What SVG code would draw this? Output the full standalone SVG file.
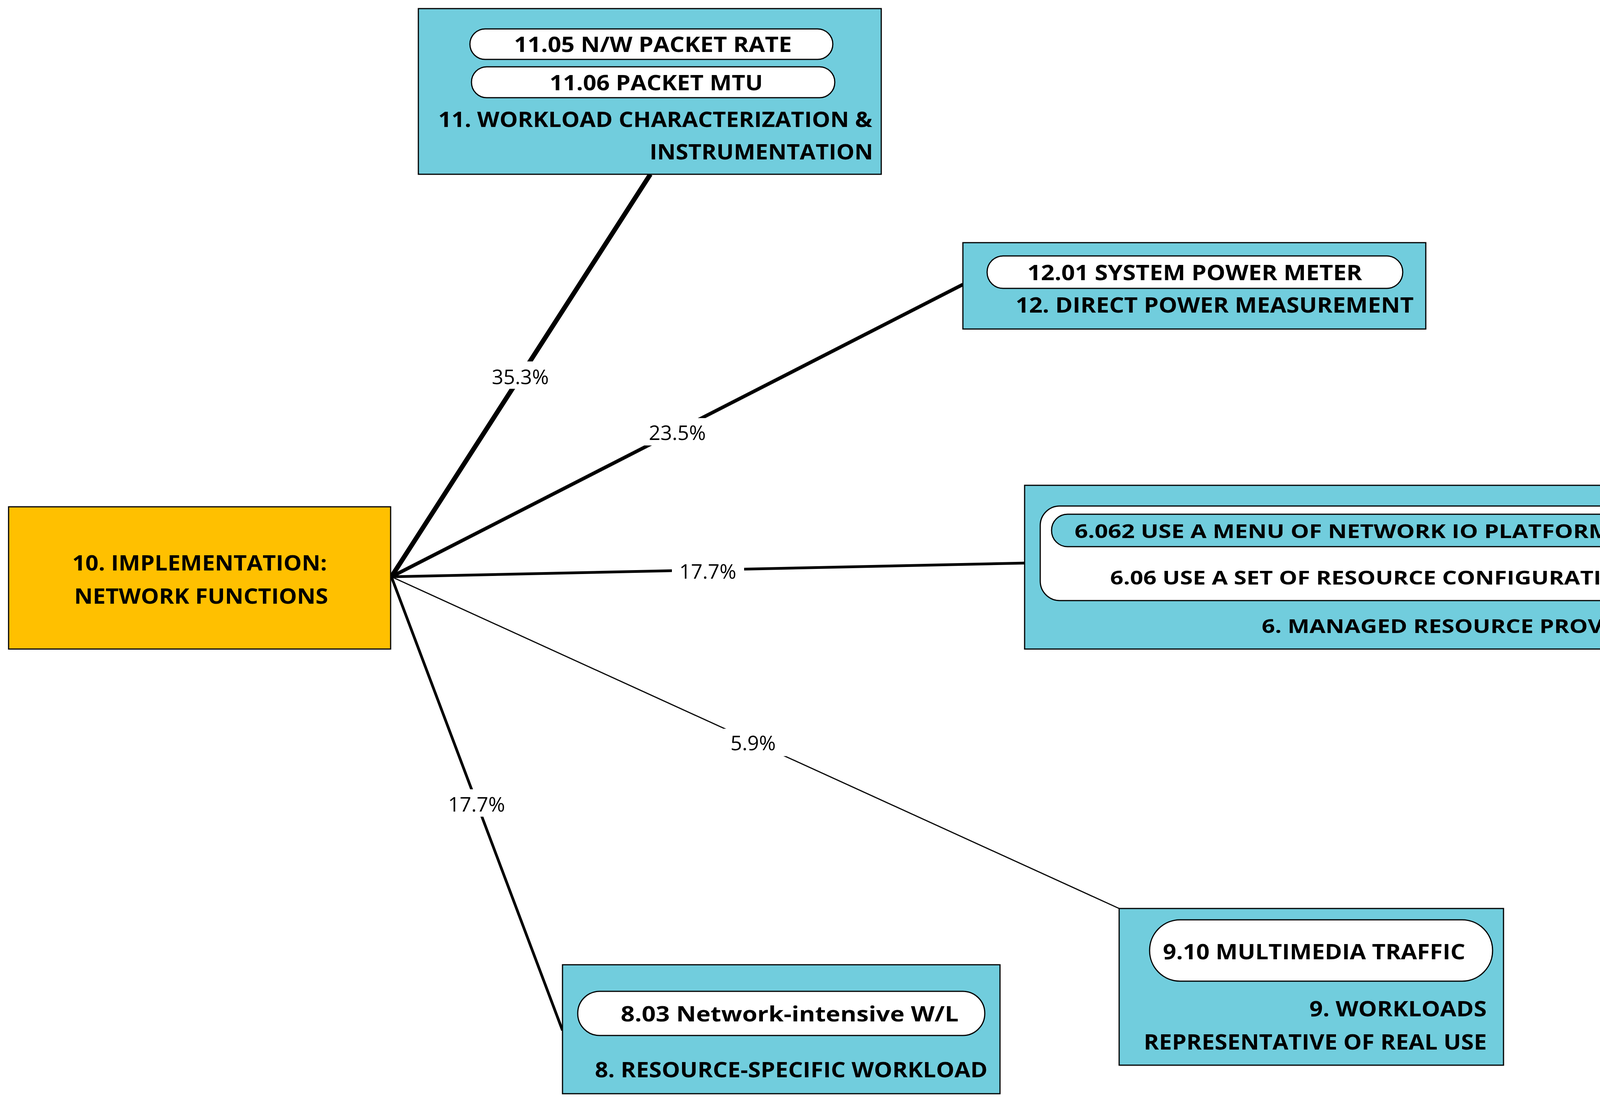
<svg xmlns="http://www.w3.org/2000/svg" width="4310" height="2810" viewBox="0 0 4310 2810" overflow="hidden">
<style>
.box{fill:#71cddd;stroke:#000;stroke-width:3}
.hub{fill:#ffc000;stroke:#000;stroke-width:3}
.pill{fill:#fff;stroke:#000;stroke-width:3}
.pillc{fill:#71cddd;stroke:#000;stroke-width:3}
.t{font-family:"Open Sans","Liberation Sans",sans-serif;font-weight:bold;font-size:54px;fill:#000}
.s{font-size:48px}
.p{font-family:"Open Sans","Liberation Sans",sans-serif;font-size:52px;fill:#000;text-anchor:middle}
.e{stroke:#000;fill:none}
</style>
<rect width="4310" height="2810" fill="#fff"/>
<g id="connectors">
<line class="e" x1="1002" y1="1476" x2="1665" y2="446" stroke-width="12"/>
<line class="e" x1="1002" y1="1476" x2="2465" y2="728" stroke-width="9"/>
<line class="e" x1="1002" y1="1476" x2="2623" y2="1441" stroke-width="7"/>
<line class="e" x1="1002" y1="1476" x2="2865" y2="2325" stroke-width="3"/>
<line class="e" x1="1002" y1="1476" x2="1440" y2="2637" stroke-width="7"/>
<rect x="1230" y="925" width="200" height="70" fill="#fff"/>
<text class="p" x="1332" y="983">35.3%</text>
<rect x="1632" y="1070" width="200" height="70" fill="#fff"/>
<text class="p" x="1734" y="1126">23.5%</text>
<rect x="1720" y="1425" width="185" height="70" fill="#fff"/>
<text class="p" x="1812" y="1481">17.7%</text>
<rect x="1830" y="1865" width="195" height="70" fill="#fff"/>
<text class="p" x="1928" y="1920">5.9%</text>
<rect x="1122" y="2020" width="195" height="70" fill="#fff"/>
<text class="p" x="1220" y="2077">17.7%</text>
</g>
<g id="n10">
<rect class="hub" x="22" y="1297" width="978" height="364"/>
<text class="t" x="185" y="1460" textLength="652" lengthAdjust="spacingAndGlyphs">10. IMPLEMENTATION:</text>
<text class="t" x="190" y="1545" textLength="650" lengthAdjust="spacingAndGlyphs">NETWORK FUNCTIONS</text>
</g>
<g id="n11">
<rect class="box" x="1071" y="22" width="1185" height="424"/>
<rect class="pill" x="1203" y="74" width="929" height="78" rx="39"/>
<text class="t" x="1316" y="133" textLength="711" lengthAdjust="spacingAndGlyphs">11.05 N/W PACKET RATE</text>
<rect class="pill" x="1207" y="171" width="930" height="79" rx="39"/>
<text class="t" x="1407" y="231" textLength="546" lengthAdjust="spacingAndGlyphs">11.06 PACKET MTU</text>
<text class="t" x="1122" y="325" textLength="1111" lengthAdjust="spacingAndGlyphs">11. WORKLOAD CHARACTERIZATION &amp;</text>
<text class="t" x="1663" y="408" textLength="572" lengthAdjust="spacingAndGlyphs">INSTRUMENTATION</text>
</g>
<g id="n12">
<rect class="box" x="2465" y="621" width="1185" height="221"/>
<rect class="pill" x="2527" y="655" width="1064" height="83" rx="41"/>
<text class="t" x="2630" y="717" textLength="857" lengthAdjust="spacingAndGlyphs">12.01 SYSTEM POWER METER</text>
<text class="t" x="2600" y="800" textLength="1019" lengthAdjust="spacingAndGlyphs">12. DIRECT POWER MEASUREMENT</text>
</g>
<g id="n6">
<rect class="box" x="2623" y="1242" width="1669" height="419"/>
<rect class="pill" x="2663" y="1295" width="1598" height="242" rx="50"/>
<rect class="pillc" x="2692" y="1316" width="1537" height="83" rx="41"/>
<text class="t s" x="2751" y="1377" textLength="1405" lengthAdjust="spacingAndGlyphs">6.062 USE A MENU OF NETWORK IO PLATFORMS</text>
<text class="t s" x="2842" y="1496" textLength="1385" lengthAdjust="spacingAndGlyphs">6.06 USE A SET OF RESOURCE CONFIGURATIONS</text>
<text class="t s" x="3230" y="1620" textLength="1041" lengthAdjust="spacingAndGlyphs">6. MANAGED RESOURCE PROVISION</text>
</g>
<g id="n8">
<rect class="box" x="1440" y="2469" width="1120" height="330"/>
<rect class="pill" x="1479" y="2537" width="1042" height="113" rx="56"/>
<text class="t" x="1589" y="2614" textLength="865" lengthAdjust="spacingAndGlyphs">8.03 Network-intensive W/L</text>
<text class="t" x="1523" y="2757" textLength="1005" lengthAdjust="spacingAndGlyphs">8. RESOURCE-SPECIFIC WORKLOAD</text>
</g>
<g id="n9">
<rect class="box" x="2865" y="2325" width="984" height="401"/>
<rect class="pill" x="2943" y="2354" width="878" height="157" rx="78"/>
<text class="t" x="2977" y="2455" textLength="774" lengthAdjust="spacingAndGlyphs">9.10 MULTIMEDIA TRAFFIC</text>
<text class="t" x="3352" y="2601" textLength="454" lengthAdjust="spacingAndGlyphs">9. WORKLOADS</text>
<text class="t" x="2928" y="2686" textLength="878" lengthAdjust="spacingAndGlyphs">REPRESENTATIVE OF REAL USE</text>
</g>
</svg>
